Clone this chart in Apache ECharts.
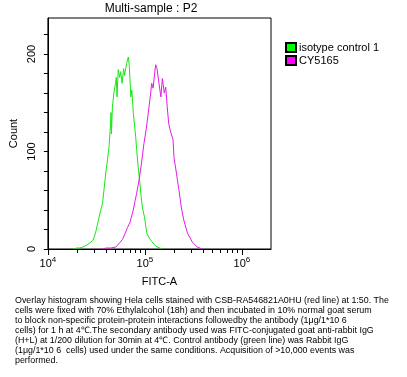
<!DOCTYPE html>
<html>
<head>
<meta charset="utf-8">
<script src="https://cdn.jsdelivr.net/npm/echarts@6/dist/echarts.min.js"></script>
<style>
  html, body { margin: 0; padding: 0; background: #fff; }
  #chart { width: 407px; height: 377px; }
</style>
</head>
<body>
<div id="chart"></div>
<script>
// 数据 (FITC-A, Count)
const seriesNames = ['isotype control 1', 'CY5165']
const isoX = [18400, 19950, 21400, 22900, 25100, 26900, 29200, 30900, 32700, 34700, 36600, 38000, 39500, 41200, 42700, 44200, 44700, 45200, 46200, 47900, 49800, 50700, 51600, 53100, 55000, 56200, 58200, 60300, 61700, 64600, 67500, 69200, 71600, 73300, 75900, 78500, 80400, 82200, 85100, 88100, 91200, 94400, 98900, 104700, 114800, 128800, 150300]
const isoY = [0, 1, 1, 2, 4, 6, 9, 16, 27, 38, 47, 62, 78, 92, 105, 128, 140, 118, 145, 160, 170, 176, 156, 184, 176, 182, 170, 185, 178, 190, 197, 187, 156, 163, 140, 125, 115, 102, 85, 71, 55, 42, 33, 16, 9, 3, 0]
const cyX = [36600, 39800, 44700, 50100, 55700, 58900, 62500, 66100, 70000, 75900, 79400, 82200, 87100, 92300, 97700, 102800, 107200, 113500, 117500, 121600, 125900, 129100, 133400, 139600, 146200, 151400, 158500, 164100, 169800, 175800, 182000, 195000, 199500, 211300, 223900, 237100, 251200, 275400, 309000, 346700, 390800]
const cyY = [0, 1, 1, 2, 7, 10, 16, 22, 27, 40, 50, 57, 71, 88, 108, 122, 136, 156, 170, 165, 180, 189, 185, 170, 156, 175, 160, 166, 146, 129, 122, 112, 94, 78, 61, 43, 30, 16, 7, 2, 0]
const xLabelTicks = [1e4, 1e5, 1e6]
const xAllTicks = [1e4, 2e4, 3e4, 4e4, 5e4, 6e4, 7e4, 8e4, 9e4, 1e5, 2e5, 3e5, 4e5, 5e5, 6e5, 7e5, 8e5, 9e5, 1e6, 2e6]
const yLabelTicks = [0, 100, 200]
const yTicks = [0, 20, 40, 60, 80, 100, 120, 140, 160, 180, 200, 220]
const caption = [
  'Overlay histogram showing Hela cells stained with CSB-RA546821A0HU (red line) at 1:50. The',
  'cells were fixed with 70% Ethylalcohol (18h) and then incubated in 10% normal goat serum',
  'to block non-specific protein-protein interactions followedby the antibody (1μg/1*10 6',
  'cells) for 1 h at 4℃.The secondary antibody used was FITC-conjugated goat anti-rabbit IgG',
  '(H+L) at 1/200 dilution for 30min at 4℃. Control antibody (green line) was Rabbit IgG',
  '(1μg/1*10 6  cells) used under the same conditions. Acquisition of >10,000 events was',
  'performed.'
]

const font = 'Liberation Sans, Arial, sans-serif'
const chart = echarts.init(document.getElementById('chart'))

function zip(xs, ys) {
  return xs.map((x, i) => [x, ys[i]])
}

let option = {
  animation: false,
  textStyle: { fontFamily: font, color: '#000' },
  grid: {
    left: 40, right: 136, top: 18, bottom: 128,
    show: true, borderColor: '#000', borderWidth: 1
  },
  legend: {
    orient: 'vertical',
    left: 280, top: 37,
    itemWidth: 10, itemHeight: 9, itemGap: 2,
    icon: 'rect',
    textStyle: { fontFamily: font, fontSize: 11, color: '#000', padding: [0, 0, 0, -2] },
    data: seriesNames
  },
  xAxis: [
    {
      type: 'log', logBase: 10, min: 1e4, max: 1995262,
      axisLine: { onZero: false, lineStyle: { color: '#000', width: 1 } },
      axisTick: { customValues: xAllTicks, length: 4, lineStyle: { color: '#000' } },
      axisLabel: {
        customValues: xLabelTicks,
        margin: 7,
        formatter: v => '{b|10}{s|' + Math.round(Math.log10(v)) + '}',
        rich: {
          b: { fontSize: 11, fontFamily: font, color: '#000' },
          s: { fontSize: 8, fontFamily: font, color: '#000', padding: [0, 0, 7, 0] }
        }
      },
      splitLine: { show: false },
      name: 'FITC-A', nameLocation: 'middle', nameGap: 27,
      nameTextStyle: { fontSize: 11, fontFamily: font, color: '#000' }
    },
    {
      type: 'log', logBase: 10, min: 1e4, max: 1995262, position: 'bottom',
      axisLine: { show: false },
      axisTick: { customValues: xLabelTicks, length: 6, lineStyle: { color: '#000' } },
      axisLabel: { show: false },
      splitLine: { show: false }
    }
  ],
  yAxis: {
    type: 'value', min: 0, max: 237,
    axisLine: { show: true, lineStyle: { color: '#000' } },
    axisTick: { show: true, customValues: yTicks, length: 4, lineStyle: { color: '#000' } },
    axisLabel: { customValues: yLabelTicks, rotate: 90, margin: 10, fontSize: 11, color: '#000' },
    splitLine: { show: false },
    name: 'Count', nameLocation: 'middle', nameGap: 28, nameRotate: 90,
    nameTextStyle: { fontSize: 11, fontFamily: font, color: '#000' }
  },
  series: [
    {
      name: seriesNames[0], type: 'line', xAxisIndex: 0,
      data: zip(isoX, isoY), showSymbol: false,
      lineStyle: { color: '#16e616', width: 1 },
      itemStyle: { color: '#00ff00', borderColor: '#000', borderWidth: 1 }
    },
    {
      name: seriesNames[1], type: 'line', xAxisIndex: 0,
      data: zip(cyX, cyY), showSymbol: false,
      lineStyle: { color: '#e619e6', width: 1 },
      itemStyle: { color: '#ff00ff', borderColor: '#000', borderWidth: 1 }
    }
  ],
  graphic: [
    {
      type: 'text', x: 151, y: 3,
      style: { text: 'Multi-sample : P2', font: '12px ' + font, fill: '#000', textAlign: 'center' }
    },
    {
      type: 'text', x: 15, y: 296,
      style: { text: caption.join('\n'), font: '8.9px ' + font, lineHeight: 10, fill: '#000' }
    }
  ]
}
chart.setOption(option)
</script>
</body>
</html>
